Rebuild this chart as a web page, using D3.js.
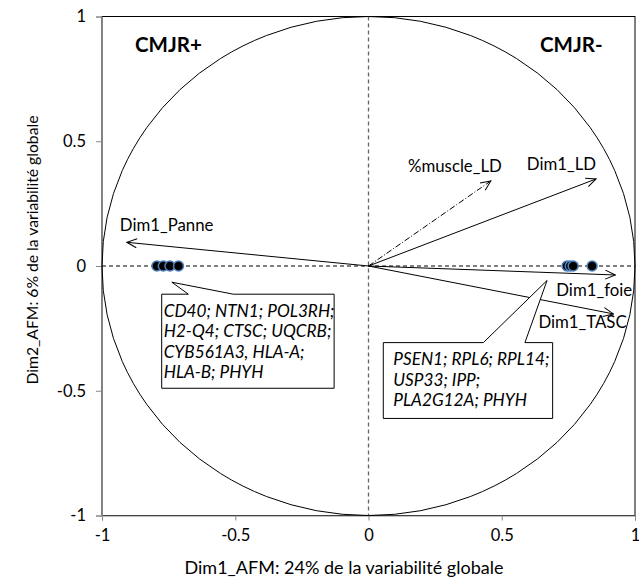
<!DOCTYPE html>
<html>
<head>
<meta charset="utf-8">
<script src="https://cdn.jsdelivr.net/npm/d3@7"></script>
<style>
  body { margin: 0; background: #fff; }
  svg { display: block; font-family: Lato, "Open Sans", sans-serif; }
</style>
</head>
<body>
<svg width="639" height="580"></svg>
<script>
// variables (arrows) on the correlation circle
var varNames = ["Dim1_Panne", "%muscle_LD", "Dim1_LD", "Dim1_foie", "Dim1_TASC"];
var varDim1 = [-0.907, 0.459, 0.854, 0.926, 0.919];
var varDim2 = [0.095, 0.341, 0.349, -0.036, -0.192];

// genes (points)
var geneDim1 = [-0.794, -0.770, -0.745, -0.713, 0.745, 0.757, 0.768, 0.839];
var geneDim2 = [0, 0, 0, 0, 0, 0, 0, 0];

// callout texts
var leftGenes = ["CD40; NTN1; POL3RH;", "H2-Q4; CTSC; UQCRB;", "CYB561A3, HLA-A;", "HLA-B; PHYH"];
var rightGenes = ["PSEN1; RPL6; RPL14;", "USP33; IPP;", "PLA2G12A; PHYH"];

var ticks = [-1, -0.5, 0, 0.5, 1];
var xTitle = "Dim1_AFM: 24% de la variabilité globale";
var yTitle = "Dim2_AFM: 6% de la variabilité globale";

var svg = d3.select("svg");
var x = d3.scaleLinear().domain([-1, 1]).range([102, 635]);
var y = d3.scaleLinear().domain([-1, 1]).range([515.5, 16.5]);

// arrow marker
svg.append("defs").append("marker")
  .attr("id", "arr")
  .attr("viewBox", "-11 -6 12 12")
  .attr("refX", 0).attr("refY", 0)
  .attr("markerWidth", 12).attr("markerHeight", 12)
  .attr("markerUnits", "userSpaceOnUse")
  .attr("orient", "auto")
  .append("path")
  .attr("d", "M-10,-4.5 L0,0 L-10,4.5")
  .attr("fill", "none").attr("stroke", "#000").attr("stroke-width", 1);

// plot border
svg.append("rect")
  .attr("x", x(-1)).attr("y", y(1))
  .attr("width", x(1) - x(-1)).attr("height", y(-1) - y(1))
  .attr("fill", "none").attr("stroke", "#000").attr("stroke-width", 1);

// axes
var fmt = function(d) { return String(d); };
var xAxis = svg.append("g")
  .attr("transform", "translate(0," + y(-1) + ")")
  .call(d3.axisBottom(x).tickValues(ticks).tickSize(5).tickFormat(fmt));
var yAxis = svg.append("g")
  .attr("transform", "translate(" + x(-1) + ",0)")
  .call(d3.axisLeft(y).tickValues(ticks).tickSize(6).tickFormat(fmt));
[xAxis, yAxis].forEach(function(a) {
  a.select(".domain").attr("stroke", "#868686");
  a.selectAll(".tick line").attr("stroke", "#868686");
  a.selectAll(".tick text").attr("fill", "#000").style("font-size", "16.5px")
    .style("font-family", "Lato, sans-serif");
});
xAxis.selectAll(".tick text").attr("y", 14);
yAxis.selectAll(".tick text").attr("x", -16);

// dashed reference lines
svg.append("line")
  .attr("x1", x(0)).attr("x2", x(0)).attr("y1", y(1)).attr("y2", y(-1))
  .attr("stroke", "#666").attr("stroke-width", 1.3).attr("stroke-dasharray", "4,3");
svg.append("line")
  .attr("x1", x(-1)).attr("x2", x(1)).attr("y1", y(0)).attr("y2", y(0))
  .attr("stroke", "#000").attr("stroke-dasharray", "4,3");

// correlation circle
svg.append("ellipse")
  .attr("cx", x(0)).attr("cy", y(0))
  .attr("rx", x(1) - x(0)).attr("ry", y(0) - y(1))
  .attr("fill", "none").attr("stroke", "#000").attr("stroke-width", 1);

// quadrant labels
svg.append("text").attr("x", 135).attr("y", 52).text("CMJR+")
  .style("font-weight", "bold").style("font-size", "20.5px");
svg.append("text").attr("x", 540).attr("y", 52).text("CMJR-")
  .style("font-weight", "bold").style("font-size", "20.5px");

// variable arrows
var vars = varNames.map(function(n, i) { return { name: n, x: varDim1[i], y: varDim2[i] }; });
svg.append("g").selectAll("line").data(vars).enter().append("line")
  .attr("x1", x(0)).attr("y1", y(0))
  .attr("x2", function(d) { return x(d.x); })
  .attr("y2", function(d) { return y(d.y); })
  .attr("stroke", "#000").attr("stroke-width", 1)
  .attr("stroke-dasharray", function(d) { return d.name == "%muscle_LD" ? "6,2,1,2" : null; })
  .attr("marker-end", "url(#arr)");

// label placement (pixel offsets from arrow tip)
var labelPos = {
  "Dim1_Panne": [-7, -11, "start"],
  "%muscle_LD": [11, -9, "end"],
  "Dim1_LD": [0, -9, "end"],
  "Dim1_foie": [-59, 21, "start"],
  "Dim1_TASC": [-75, 14, "start"]
};
svg.append("g").selectAll("text").data(vars).enter().append("text")
  .attr("x", function(d) { return x(d.x) + labelPos[d.name][0]; })
  .attr("y", function(d) { return y(d.y) + labelPos[d.name][1]; })
  .attr("text-anchor", function(d) { return labelPos[d.name][2]; })
  .style("font-size", "16.8px")
  .text(function(d) { return d.name; });

// callouts
function callout(box, tip, base, lines, pad) {
  var x0 = x(box[0]), x1 = x(box[1]), y0 = y(box[2]), y1 = y(box[3]);
  var p = [[x0, y0], [x(base[0]), y0], [x(tip[0]), y(tip[1])], [x(base[1]), y0],
           [x1, y0], [x1, y1], [x0, y1]];
  svg.append("path")
    .attr("d", "M" + p.join("L") + "Z")
    .attr("fill", "#fff").attr("stroke", "#000").attr("stroke-width", 1);
  var t = svg.append("text").style("font-size", "17.2px").style("font-style", "italic");
  lines.forEach(function(l, i) {
    t.append("tspan").attr("x", x0 + pad).attr("y", y0 + 22.5 + i * 20.5).text(l);
  });
}
callout([-0.776, -0.129, -0.113, -0.490], [-0.738, -0.065], [-0.676, -0.507], leftGenes, 2);
callout([0.0555, 0.691, -0.307, -0.611], [0.670, -0.058], [0.431, 0.587], rightGenes, 10);

// gene points
var genes = geneDim1.map(function(v, i) { return { x: v, y: geneDim2[i] }; });
svg.append("g").selectAll("circle").data(genes).enter().append("circle")
  .attr("cx", function(d) { return x(d.x); })
  .attr("cy", function(d) { return y(d.y); })
  .attr("r", 5)
  .attr("fill", "#000").attr("stroke", "#4f81bd").attr("stroke-width", 1.5);

// axis titles
svg.append("text").attr("x", 344).attr("y", 574).attr("text-anchor", "middle")
  .style("font-size", "18px").text(xTitle);
svg.append("text").attr("transform", "translate(38,250) rotate(-90)")
  .attr("text-anchor", "middle").style("font-size", "15.7px").text(yTitle);
</script>
</body>
</html>
